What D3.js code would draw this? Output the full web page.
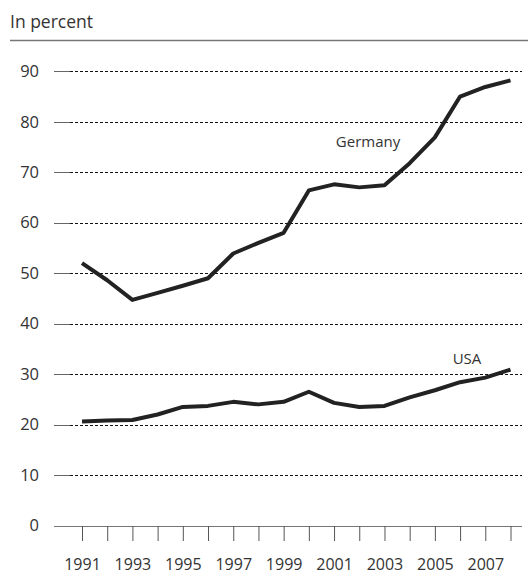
<!DOCTYPE html>
<html><head><meta charset="utf-8">
<script src="https://cdn.jsdelivr.net/npm/d3@7"></script>
<style>body{margin:0;background:#fff}svg{display:block}text{font-family:"Open Sans",sans-serif;fill:#333}</style>
</head><body><svg id="c" width="528" height="575"></svg>
<script>
const years = [1991,1992,1993,1994,1995,1996,1997,1998,1999,2000,2001,2002,2003,2004,2005,2006,2007,2008];
const germany = [52.0,48.6,44.7,46.1,47.5,49.0,53.9,56.0,58.0,66.4,67.6,67.0,67.4,71.8,76.9,85.0,86.9,88.2];
const usa = [20.6,20.8,20.9,22.0,23.5,23.7,24.5,24.0,24.5,26.5,24.3,23.5,23.7,25.4,26.8,28.4,29.3,30.9];
const yTicks = [0,10,20,30,40,50,60,70,80,90];
const xLabels = [1991,1993,1995,1997,1999,2001,2003,2005,2007];

const svg = d3.select("#c");
const x = d3.scaleLinear().domain([1991,2008]).range([82,510.5]);
const y = d3.scaleLinear().domain([0,90]).range([525.5,71.3]);

// title
svg.append("text").attr("x",10).attr("y",28).attr("font-size",17.5).text("In percent");
svg.append("line").attr("x1",10).attr("x2",528).attr("y1",40.5).attr("y2",40.5).attr("stroke","#777").attr("stroke-width",1.6);

// y axis labels
const yAxis = d3.axisLeft(y).tickValues(yTicks).tickSize(0).tickPadding(0);
const gy = svg.append("g").attr("transform","translate(39,0)").call(yAxis);
gy.select(".domain").remove();
gy.selectAll("text").attr("font-size",16.5).attr("fill","#333").attr("font-family","Open Sans, sans-serif");

// grid
const grid = svg.append("g");
yTicks.forEach(v=>{
  const py = Math.round(y(v))+0.5;
  grid.append("line").attr("x1",54).attr("x2",70).attr("y1",py).attr("y2",py).attr("stroke","#666").attr("stroke-width",1);
  grid.append("line").attr("x1",70).attr("x2",522).attr("y1",py).attr("y2",py).attr("stroke","#111").attr("stroke-width",1).attr("stroke-dasharray","3,2");
});
grid.append("line").attr("x1",54).attr("x2",522).attr("y1",Math.round(y(0))+0.5).attr("y2",Math.round(y(0))+0.5).attr("stroke","#777").attr("stroke-width",1);

// x axis
const xAxis = d3.axisBottom(x).tickValues(years).tickSize(15).tickFormat(d=> xLabels.includes(d)? d : "").tickPadding(18);
const gx = svg.append("g").attr("transform",`translate(0,${Math.round(y(0))})`).call(xAxis);
gx.select(".domain").remove();
gx.selectAll(".tick line").attr("stroke","#555");
gx.selectAll("text").attr("font-size",16).attr("fill","#333").attr("font-family","Open Sans, sans-serif");

// lines
const line = d3.line().x((d,i)=>x(years[i])).y(d=>y(d));
[germany,usa].forEach(s=>{
  svg.append("path").datum(s).attr("d",line).attr("fill","none").attr("stroke","#222").attr("stroke-width",4).attr("stroke-linejoin","round");
});

svg.append("text").attr("x",368).attr("y",147).attr("text-anchor","middle").attr("font-size",15).text("Germany");
svg.append("text").attr("x",467).attr("y",364).attr("text-anchor","middle").attr("font-size",15).text("USA");
</script></body></html>
